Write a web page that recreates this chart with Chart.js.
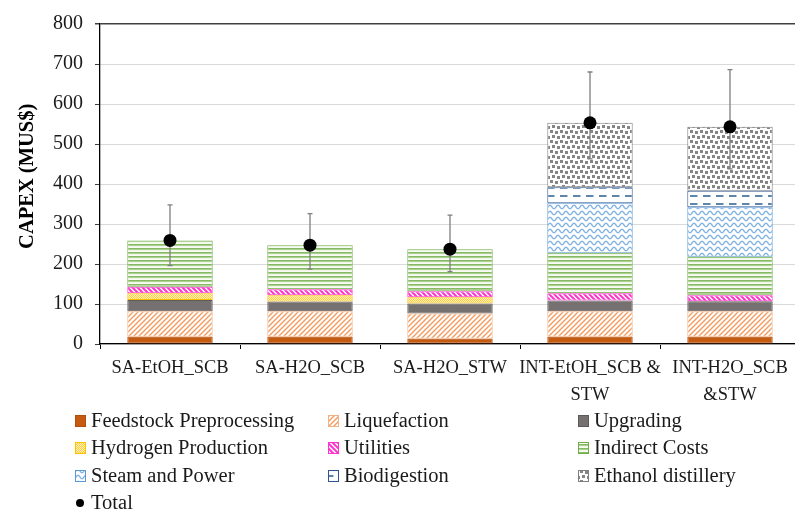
<!DOCTYPE html>
<html>
<head>
<meta charset="utf-8">
<script src="https://cdn.jsdelivr.net/npm/chart.js@4"></script>
<style>
  html, body { margin: 0; padding: 0; background: #fff; overflow: hidden; }
  #capex { display: block; width: 800px; height: 516px; }
</style>
</head>
<body>
<canvas id="capex" width="800" height="516"></canvas>
<script>
// categories
const scenarios = ['SA-EtOH_SCB', 'SA-H2O_SCB', 'SA-H2O_STW', ['INT-EtOH_SCB &', 'STW'], ['INT-H2O_SCB', '&STW']];

// stacked components (MUS$)
const feedstock   = [18, 18, 13, 18, 18];
const liquefaction = [64, 64, 63, 64, 64];
const upgrading   = [28, 24, 25, 27, 25];
const hydrogen    = [17, 16, 16, null, null];
const utilities   = [16, 15, 15, 18, 15];
const indirect    = [116, 110, 105, 101, 96];
const steamPower  = [null, null, null, 124, 124];
const biodigest   = [null, null, null, 40, 41];
const ethanol     = [null, null, null, 161, 160];

// totals with error range
const totals  = [259, 247, 237, 553, 543];
const errLow  = [196, 187, 181, 463, 438];
const errHigh = [348, 326, 322, 680, 686];

const yTicks = [0, 100, 200, 300, 400, 500, 600, 700, 800];

const canvas = document.getElementById('capex');
const ctx0 = canvas.getContext('2d');

function pat(w, h, draw) {
  const c = document.createElement('canvas');
  c.width = w; c.height = h;
  const g = c.getContext('2d');
  g.fillStyle = '#fff';
  g.fillRect(0, 0, w, h);
  draw(g);
  return ctx0.createPattern(c, 'repeat');
}

const pLiq = pat(5, 5, g => {
  g.strokeStyle = '#F39B5E'; g.lineWidth = 1.4;
  g.beginPath();
  g.moveTo(-1, 6); g.lineTo(6, -1);
  g.moveTo(-1, 1); g.lineTo(1, -1);
  g.moveTo(4, 6); g.lineTo(6, 4);
  g.stroke();
});
const pH2 = pat(2, 2, g => {
  g.fillStyle = '#FFF2C4'; g.fillRect(0, 0, 2, 2);
  g.fillStyle = '#FFCC33'; g.fillRect(0, 0, 1, 1); g.fillRect(1, 1, 1, 1);
});
const pUtil = pat(5, 5, g => {
  g.strokeStyle = '#FF33CC'; g.lineWidth = 2;
  g.beginPath();
  g.moveTo(-1, -1); g.lineTo(6, 6);
  g.moveTo(4, -1); g.lineTo(6, 1);
  g.moveTo(-1, 4); g.lineTo(1, 6);
  g.stroke();
});
const pInd = pat(4, 4, g => {
  g.fillStyle = '#E4F1DA'; g.fillRect(0, 0, 4, 4);
  g.fillStyle = '#86BA62'; g.fillRect(0, 0, 4, 1.6);
  g.fillStyle = '#F7FBF4'; g.fillRect(0, 2.4, 4, 1.6);
});
const pSteam = pat(8, 6, g => {
  g.strokeStyle = '#7FB0E2'; g.lineWidth = 1.3;
  g.beginPath();
  for (let x = -0.5; x <= 8.5; x += 0.5) {
    const y = 3 + 1.7 * Math.sin(x / 8 * Math.PI * 2);
    if (x === -0.5) g.moveTo(x, y); else g.lineTo(x, y);
  }
  g.stroke();
});
const pBio = pat(13, 8, g => {
  g.strokeStyle = '#41719C'; g.lineWidth = 1.7;
  g.beginPath(); g.moveTo(1, 4); g.lineTo(8.5, 4); g.stroke();
});
const pEth = pat(10, 10, g => {
  g.fillStyle = '#858585';
  g.fillRect(0, 0, 3, 3); g.fillRect(5, 1, 3, 3);
  g.fillRect(2, 5, 3, 3); g.fillRect(7, 6, 3, 3);
});

function barSet(label, data, bg, border) {
  return {
    type: 'bar', label, data,
    backgroundColor: bg, borderColor: border,
    borderWidth: 1, borderSkipped: false,
    stack: 'capex', barPercentage: 0.61, categoryPercentage: 1
  };
}

const datasets = [
  barSet('Feedstock Preprocessing', feedstock, '#C55A11', '#B04E0E'),
  barSet('Liquefaction', liquefaction, pLiq, '#F4B183'),
  barSet('Upgrading', upgrading, '#767171', '#5E5A5A'),
  barSet('Hydrogen Production', hydrogen, pH2, '#FFC000'),
  barSet('Utilities', utilities, pUtil, '#FF33CC'),
  barSet('Indirect Costs', indirect, pInd, '#70AD47'),
  barSet('Steam and Power', steamPower, pSteam, '#5B9BD5'),
  barSet('Biodigestion', biodigest, pBio, '#2F5597'),
  barSet('Ethanol distillery', ethanol, pEth, '#7F7F7F'),
  {
    type: 'line', label: 'Total', data: totals, stack: 'total', order: -1,
    showLine: false, pointRadius: 6.5, pointBackgroundColor: '#000',
    pointBorderColor: '#000', pointBorderWidth: 0
  }
];

const FONT = "'Liberation Serif', 'Times New Roman', serif";

const errorBars = {
  id: 'errorBars',
  beforeDatasetDraw(chart, args) {
    if (chart.data.datasets[args.index].label !== 'Total') return;
    const { ctx, scales: { x, y } } = chart;
    ctx.save();
    ctx.strokeStyle = '#7F7F7F';
    ctx.lineWidth = 1.3;
    totals.forEach((t, i) => {
      const px = x.getPixelForValue(i);
      const lo = y.getPixelForValue(errLow[i]);
      const hi = y.getPixelForValue(errHigh[i]);
      ctx.beginPath();
      ctx.moveTo(px, lo); ctx.lineTo(px, hi);
      ctx.moveTo(px - 2.5, lo); ctx.lineTo(px + 2.5, lo);
      ctx.moveTo(px - 2.5, hi); ctx.lineTo(px + 2.5, hi);
      ctx.stroke();
    });
    ctx.restore();
  }
};

// three-column legend under the plot
const gridLegend = {
  id: 'gridLegend',
  afterDraw(chart) {
    const { ctx } = chart;
    const colX = [75, 328, 578];
    const rowY = [421, 448, 476, 503];
    ctx.save();
    ctx.font = '20.5px ' + FONT;
    ctx.textBaseline = 'middle';
    chart.data.datasets.forEach((ds, i) => {
      const x = colX[i % 3], y = rowY[Math.floor(i / 3)];
      if (ds.type === 'line') {
        ctx.fillStyle = '#000';
        ctx.beginPath(); ctx.arc(x + 5, y, 4, 0, Math.PI * 2); ctx.fill();
      } else {
        ctx.fillStyle = ds.backgroundColor;
        ctx.fillRect(x, y - 6, 11, 12);
        ctx.strokeStyle = ds.borderColor;
        ctx.lineWidth = 1;
        ctx.strokeRect(x + 0.5, y - 5.5, 10, 11);
      }
      ctx.fillStyle = '#1a1a1a';
      ctx.fillText(ds.label, x + 16, y + 1);
    });
    ctx.restore();
  }
};

new Chart(canvas, {
  data: { labels: scenarios, datasets },
  plugins: [errorBars, gridLegend],
  options: {
    responsive: false,
    animation: false,
    layout: { autoPadding: false, padding: { top: 19, right: 0, bottom: 112, left: 0 } },
    plugins: { legend: { display: false }, tooltip: { enabled: false } },
    scales: {
      x: {
        stacked: true,
        afterFit: s => { s.height = 60; },
        grid: { offset: true, drawOnChartArea: false, drawTicks: true, tickLength: 5, color: '#000' },
        border: { color: '#000', width: 1.3 },
        ticks: { color: '#1a1a1a', padding: 6, maxRotation: 0, autoSkip: false,
                 font: { family: FONT, size: 18.5, lineHeight: 1.45 } }
      },
      y: {
        stacked: true,
        min: 0, max: 800,
        afterFit: s => { s.width = 100; },
        afterBuildTicks: s => { s.ticks = yTicks.map(v => ({ value: v })); },
        grid: {
          color: c => c.tick && c.tick.value === 800 ? '#404040' : '#D9D9D9',
          lineWidth: c => c.tick && c.tick.value === 800 ? 1.5 : 1,
          tickColor: '#404040', tickLength: 5
        },
        border: { color: '#000', width: 1.3 },
        ticks: { color: '#1a1a1a', padding: 12, font: { family: FONT, size: 20 } },
        title: {
          display: true, text: '   CAPEX (MUS$)', color: '#000',
          font: { family: FONT, size: 20.5, weight: 'bold' },
          padding: { top: 15, bottom: 0 }
        }
      }
    }
  }
});
</script>
</body>
</html>
